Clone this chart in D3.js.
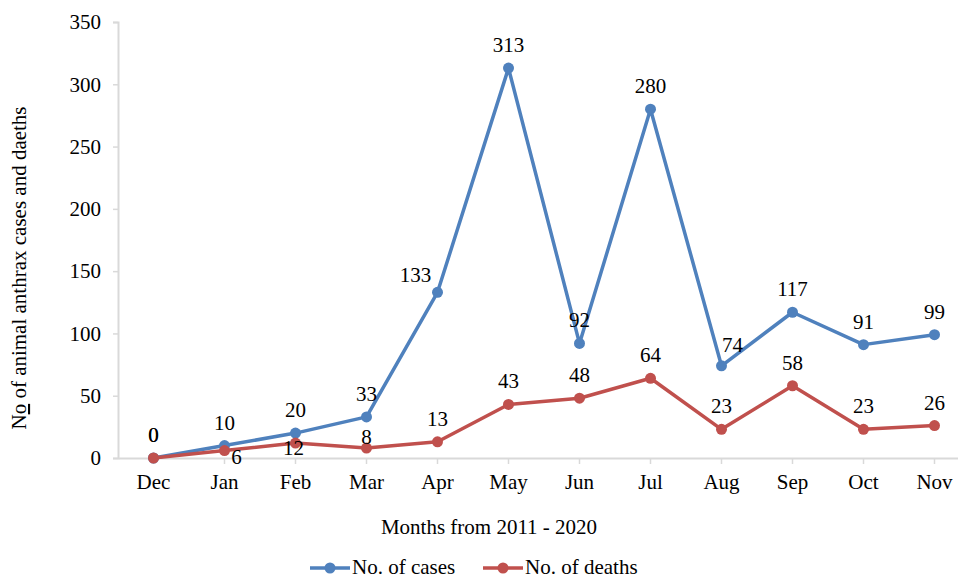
<!DOCTYPE html>
<html>
<head>
<meta charset="utf-8">
<script src="https://cdn.jsdelivr.net/npm/d3@7"></script>
<style>
  html, body { margin: 0; padding: 0; background: #fff; }
</style>
</head>
<body>
<div id="chart"></div>
<script>
const months = ['Dec', 'Jan', 'Feb', 'Mar', 'Apr', 'May', 'Jun', 'Jul', 'Aug', 'Sep', 'Oct', 'Nov'];
const cases = [0, 10, 20, 33, 133, 313, 92, 280, 74, 117, 91, 99];
const deaths = [0, 6, 12, 8, 13, 43, 48, 64, 23, 58, 23, 26];
const yTicks = [0, 50, 100, 150, 200, 250, 300, 350];

// label nudges (dx, dy from point) where Excel moved them off the default "above"
const caseNudge = { 4: [-22, 6], 8: [11, 2] };
const deathNudge = { 1: [12, 29], 2: [-2, 28], 3: [0, 12] };

const FONT = 'Liberation Serif';
const FS = 21;

const W = 958, H = 578;
const M = { top: 22, right: -12, bottom: 120, left: 118 };
const iW = W - M.left - M.right, iH = H - M.top - M.bottom;

const x = d3.scaleBand().domain(months).range([0, iW]);
const y = d3.scaleLinear().domain([0, 350]).range([iH, 0]);
const cx = d => x(d) + x.bandwidth() / 2;

const svg = d3.select('#chart').append('svg').attr('width', W).attr('height', H);
const g = svg.append('g').attr('transform', `translate(${M.left},${M.top})`);

// y axis
const yAx = g.append('g').call(d3.axisLeft(y).tickValues(yTicks).tickSize(5).tickPadding(12));
yAx.attr('font-family', FONT).attr('font-size', FS);
yAx.select('.domain').attr('stroke', '#d9d9d9').attr('stroke-width', 2);
yAx.selectAll('.tick line').attr('stroke', '#d9d9d9').attr('stroke-width', 1.5);
yAx.selectAll('.tick text').attr('fill', '#000');

// x axis
const xAx = g.append('g').attr('transform', `translate(0,${iH})`)
  .call(d3.axisBottom(x).tickSize(6).tickPadding(10).tickSizeOuter(0));
xAx.attr('font-family', FONT).attr('font-size', FS);
xAx.select('.domain').attr('stroke', '#d9d9d9').attr('stroke-width', 2);
xAx.selectAll('.tick line').attr('stroke', '#d9d9d9').attr('stroke-width', 1.5);
xAx.selectAll('.tick text').attr('fill', '#000');

const series = [
  { name: 'No. of cases', values: cases, color: '#4f81bd', nudge: caseNudge },
  { name: 'No. of deaths', values: deaths, color: '#c0504d', nudge: deathNudge }
];

const line = d3.line().x((d, i) => cx(months[i])).y(d => y(d));

series.forEach(s => {
  g.append('path').datum(s.values)
    .attr('fill', 'none').attr('stroke', s.color).attr('stroke-width', 3.5)
    .attr('stroke-linejoin', 'round').attr('d', line);
  g.selectAll(null).data(s.values).join('circle')
    .attr('cx', (d, i) => cx(months[i])).attr('cy', d => y(d))
    .attr('r', 5.5).attr('fill', s.color);
});

const labels = g.append('g').attr('font-family', FONT).attr('font-size', FS);
series.forEach(s => {
  labels.selectAll(null).data(s.values).join('text')
    .attr('x', (d, i) => cx(months[i]) + (s.nudge[i] ? s.nudge[i][0] : 0))
    .attr('y', (d, i) => y(d) - 16 + (s.nudge[i] ? s.nudge[i][1] : 0))
    .attr('text-anchor', 'middle')
    .text(d => d);
});

// axis titles
const titles = svg.append('g').attr('font-family', FONT).attr('font-size', FS);
titles.append('text').attr('x', 489).attr('y', 534).attr('text-anchor', 'middle')
  .text('Months from 2011 - 2020');

const yt = titles.append('text').attr('transform', 'translate(26,268) rotate(-90)')
  .attr('text-anchor', 'middle');
yt.append('tspan').text('N');
yt.append('tspan').attr('text-decoration', 'underline').text('o');
yt.append('tspan').text(' of animal anthrax cases and daeths');

// legend
const lg = svg.append('g').attr('transform', 'translate(310,568)')
  .attr('font-family', FONT).attr('font-size', FS);
series.forEach((s, i) => {
  const item = lg.append('g').attr('transform', `translate(${i * 173},0)`);
  item.append('line').attr('x1', 0).attr('x2', 40).attr('y1', 0).attr('y2', 0)
    .attr('stroke', s.color).attr('stroke-width', 3.5);
  item.append('circle').attr('cx', 20).attr('cy', 0).attr('r', 5.5).attr('fill', s.color);
  item.append('text').attr('x', 42).attr('y', 6).text(s.name);
});
</script>
</body>
</html>
